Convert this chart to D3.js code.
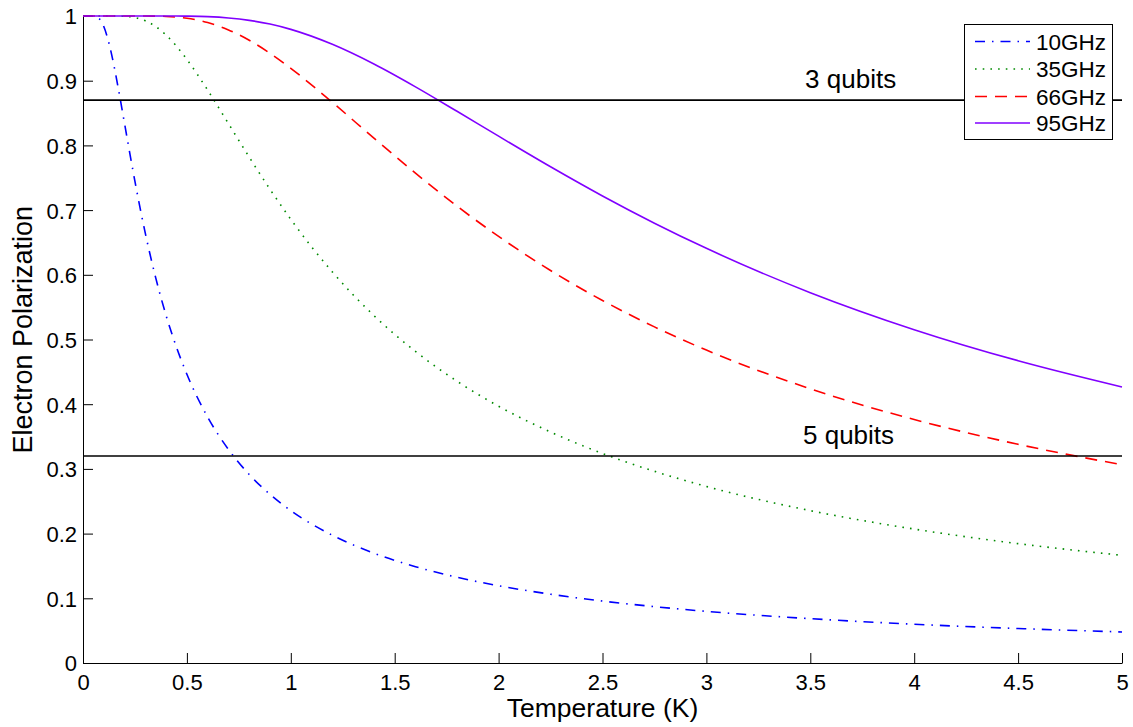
<!DOCTYPE html>
<html>
<head>
<meta charset="utf-8">
<script src="https://cdn.jsdelivr.net/npm/d3@7"></script>
<style>
  html, body { margin: 0; padding: 0; background: #fff; }
  svg { display: block; font-family: "Liberation Sans", Arial, Helvetica, sans-serif; }
</style>
</head>
<body>
<svg id="chart" width="1133" height="727"></svg>
<script>
// Temperature (K)
const temps = [0, 0.025, 0.05, 0.075, 0.1, 0.125, 0.15, 0.175, 0.2, 0.25, 0.3, 0.35, 0.4, 0.45, 0.5,
  0.6, 0.7, 0.8, 0.9, 1.0, 1.2, 1.4, 1.6, 1.8, 2.0, 2.25, 2.5, 2.75, 3.0, 3.5, 4.0, 4.5, 5.0];
// Electron polarization per frequency
const p10GHz = [1, 1, 0.9999, 0.9967, 0.9837, 0.9579, 0.9217, 0.8790, 0.8337, 0.7443, 0.6640, 0.5953, 0.5370, 0.4880, 0.4462,
  0.3800, 0.3301, 0.2913, 0.2606, 0.2355, 0.1974, 0.1698, 0.1489, 0.1325, 0.1194, 0.1063, 0.0957, 0.0871, 0.0798, 0.0685, 0.0599, 0.0533, 0.0480];
const p35GHz = [1, 1, 1, 1, 1, 1, 1, 0.9999, 0.9996, 0.9976, 0.9926, 0.9837, 0.9704, 0.9533, 0.9329,
  0.8854, 0.8337, 0.7818, 0.7322, 0.6858, 0.6044, 0.5370, 0.4816, 0.4355, 0.3969, 0.3570, 0.3239, 0.2963, 0.2729, 0.2355, 0.2070, 0.1845, 0.1664];
const p66GHz = [1, 1, 1, 1, 1, 1, 1, 1, 1, 1, 1, 0.9998, 0.9993, 0.9982, 0.9965,
  0.9898, 0.9785, 0.9625, 0.9424, 0.9191, 0.8665, 0.8112, 0.7571, 0.7061, 0.6593, 0.6066, 0.5603, 0.5195, 0.4836, 0.4238, 0.3763, 0.3380, 0.3064];
const p95GHz = [1, 1, 1, 1, 1, 1, 1, 1, 1, 1, 1, 1, 1, 1, 0.9998,
  0.9990, 0.9970, 0.9933, 0.9875, 0.9793, 0.9562, 0.9258, 0.8905, 0.8527, 0.8143, 0.7670, 0.7219, 0.6798, 0.6409, 0.5724, 0.5152, 0.4672, 0.4267];
const seriesNames = ["10GHz", "35GHz", "66GHz", "95GHz"];
const seriesValues = [p10GHz, p35GHz, p66GHz, p95GHz];
// Qubit threshold lines
const thresholdLabels = ["3 qubits", "5 qubits"];
const thresholdValues = [0.87, 0.32];
const thresholdLabelT = [3.475, 3.465];
// Ticks
const xTicks = [0, 0.5, 1, 1.5, 2, 2.5, 3, 3.5, 4, 4.5, 5];
const yTicks = [0, 0.1, 0.2, 0.3, 0.4, 0.5, 0.6, 0.7, 0.8, 0.9, 1];

const styles = [
  { color: "#0000ff", dash: "10,7,1.5,7" },
  { color: "#008a00", dash: "1.6,6.1" },
  { color: "#ff0000", dash: "12,8" },
  { color: "#8000ff", dash: null }
];

const svg = d3.select("#chart");
const x = d3.scaleLinear().domain([0, 5]).range([83, 1122]);
const y = d3.scaleLinear().domain([0, 1]).range([663, 16]);

// Axes
const xAxis = d3.axisBottom(x).tickValues(xTicks).tickSizeInner(-10).tickSizeOuter(0).tickPadding(11)
  .tickFormat(d3.format("~g"));
const yAxis = d3.axisLeft(y).tickValues(yTicks).tickSizeInner(-10).tickSizeOuter(0).tickPadding(6)
  .tickFormat(d3.format("~g"));

const gx = svg.append("g").attr("transform", "translate(0,663)").call(xAxis);
const gy = svg.append("g").attr("transform", "translate(83,0)").call(yAxis);
[gx, gy].forEach(g => {
  g.selectAll("text").attr("font-size", 22).attr("fill", "#000")
    .attr("font-family", "'Liberation Sans', Arial, Helvetica, sans-serif");
  g.selectAll("line").attr("stroke", "#000");
  g.select(".domain").attr("stroke", "#000");
});
gy.selectAll("text").attr("dy", "0.36em");

// Curves
const line = d3.line().x((d, i) => x(temps[i])).y(d => y(d)).curve(d3.curveMonotoneX);
seriesValues.forEach((vals, k) => {
  const p = svg.append("path").datum(vals)
    .attr("d", line)
    .attr("fill", "none")
    .attr("stroke", styles[k].color)
    .attr("stroke-width", 1.6);
  if (styles[k].dash) p.attr("stroke-dasharray", styles[k].dash);
});

// Threshold lines
thresholdValues.forEach((v, i) => {
  svg.append("line")
    .attr("x1", x(0)).attr("x2", x(5))
    .attr("y1", y(v)).attr("y2", y(v))
    .attr("stroke", "#000").attr("stroke-width", 1.6);
  svg.append("text")
    .attr("x", x(thresholdLabelT[i])).attr("y", y(v) - 12)
    .attr("font-size", 26).attr("fill", "#000")
    .text(thresholdLabels[i]);
});

// Axis labels
svg.append("text").attr("x", x(2.5)).attr("y", 717).attr("text-anchor", "middle")
  .attr("font-size", 26.5).attr("fill", "#000").text("Temperature (K)");
svg.append("text").attr("transform", "translate(32," + y(0.515) + ") rotate(-90)")
  .attr("text-anchor", "middle").attr("font-size", 27).attr("fill", "#000")
  .text("Electron Polarization");

// Legend
const lg = svg.append("g");
lg.append("rect").attr("x", 964.5).attr("y", 24.5).attr("width", 148).attr("height", 115)
  .attr("fill", "#fff").attr("stroke", "#000").attr("stroke-width", 1);
const rowY = [41.5, 69, 96.5, 123];
seriesNames.forEach((name, k) => {
  const l = lg.append("line").attr("x1", 975).attr("x2", 1030).attr("y1", rowY[k]).attr("y2", rowY[k])
    .attr("stroke", styles[k].color).attr("stroke-width", 1.6);
  if (styles[k].dash) l.attr("stroke-dasharray", styles[k].dash);
  lg.append("text").attr("x", 1036).attr("y", rowY[k]).attr("dy", "0.36em")
    .attr("font-size", 22.5).attr("fill", "#000").text(name);
});
</script>
</body>
</html>
